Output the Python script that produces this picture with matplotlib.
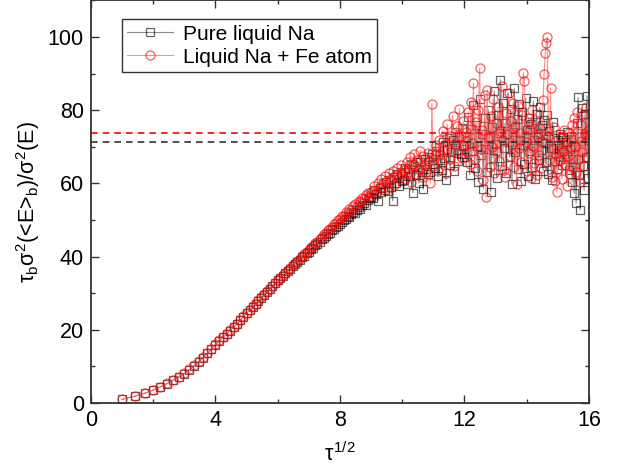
import numpy as np
import matplotlib
matplotlib.use("Agg")
import matplotlib.pyplot as plt
from matplotlib.ticker import MultipleLocator

plt.rcParams['font.family'] = ['Liberation Sans', 'DejaVu Sans']
plt.rcParams['mathtext.fontset'] = 'custom'
plt.rcParams['mathtext.rm'] = 'Liberation Sans'
plt.rcParams['mathtext.it'] = 'Liberation Sans'

# block sizes tau = 1..256, plotted against sqrt(tau)
tau = np.arange(1, 257)

pure_na = [
    1.0, 1.9, 2.7, 3.5, 4.4, 5.3, 6.2, 7.1, 8.0, 9.1,
    10.2, 11.3, 12.4, 13.6, 14.8, 16.0, 17.0, 18.0, 18.9, 19.8,
    20.7, 21.6, 22.6, 23.6, 24.5, 25.4, 26.3, 27.1, 28.0, 28.8,
    29.6, 30.4, 31.2, 32.0, 32.8, 33.5, 34.2, 34.8, 35.5, 36.1,
    36.7, 37.4, 38.0, 38.6, 39.2, 39.8, 40.3, 40.9, 41.4, 42.0,
    42.5, 43.1, 43.6, 44.1, 44.7, 45.2, 45.6, 46.3, 46.6, 47.2,
    47.5, 48.2, 48.5, 49.0, 49.4, 50.1, 50.3, 51.0, 50.9, 51.6,
    52.3, 51.9, 52.8, 53.5, 53.0, 54.2, 54.6, 54.1, 55.5, 55.9, 56.3,
    56.0, 58.1, 57.0, 55.2, 58.9, 57.6, 59.8, 58.1, 60.4, 57.9,
    61.0, 59.1, 55.3, 61.9, 60.2, 62.5, 59.4, 63.0, 60.8,
    61.0, 64.1, 59.8, 63.9, 62.0, 65.2, 57.5, 64.8, 62.3, 66.0,
    60.1, 65.9, 63.0, 58.4, 66.8, 64.0, 62.5, 67.3, 63.1, 68.0, 65.2,
    64.2, 68.9, 62.0, 70.1, 66.5, 63.8, 71.2, 67.0, 60.9, 69.5,
    72.3, 65.0, 68.7, 71.8, 63.5, 74.0, 69.1, 66.2, 72.8, 68.0,
    75.1, 70.4, 67.3,
    71.5, 66.0, 78.2, 62.4, 74.8, 69.0, 81.5, 64.3, 76.0, 70.2, 60.5, 83.0, 67.8, 73.5, 58.6, 77.9,
    69.4, 63.2, 80.1, 72.6, 57.8, 75.4, 66.9, 85.2, 70.7, 61.5, 78.8, 73.9, 88.4, 64.7, 82.0, 69.8,
    76.5, 62.8, 84.6, 71.3, 67.2, 80.3, 59.9, 74.1, 86.0, 68.5, 77.6, 63.9, 81.7, 72.0, 60.7, 79.4,
    70.6, 65.4, 83.3, 74.7, 62.1, 78.0, 68.9, 76.2, 64.6, 82.5, 71.8, 61.3, 79.0, 73.4, 66.3, 80.8,
    69.1, 75.9, 63.4, 77.3, 71.0, 65.8, 78.6, 62.7, 74.3, 69.7, 61.0, 76.8, 72.4, 66.1, 70.5, 64.0,
    71.9, 67.4, 73.6, 69.2, 65.1, 72.8, 68.0, 70.9, 66.6, 74.0, 71.2, 63.7, 69.5, 72.1, 60.4, 66.8,
    57.3, 70.0, 54.6, 76.4, 83.5, 62.2, 52.8, 71.5, 80.7, 64.8, 58.1, 78.9, 67.3, 84.0, 61.6, 73.2,
]

na_fe = [
    1.0, 1.9, 2.7, 3.6, 4.5, 5.4, 6.3, 7.2, 8.1, 9.2,
    10.3, 11.4, 12.5, 13.7, 14.9, 16.1, 17.1, 18.1, 19.0, 19.9,
    20.8, 21.7, 22.7, 23.7, 24.6, 25.5, 26.4, 27.2, 28.1, 28.9,
    29.7, 30.5, 31.3, 32.1, 32.9, 33.6, 34.3, 35.0, 35.6, 36.3,
    36.9, 37.6, 38.2, 38.8, 39.4, 40.1, 40.6, 41.3, 41.8, 42.6,
    43.0, 43.8, 44.1, 44.9, 45.3, 46.1, 46.4, 47.2, 47.6, 48.1,
    48.8, 49.1, 49.9, 50.2, 51.0, 51.2, 52.1, 52.0, 53.1, 52.8,
    53.9, 54.3, 53.8, 55.2, 55.0, 56.1, 55.8, 56.9, 57.4, 56.6, 57.8,
    58.0, 59.4, 57.3, 60.1, 58.8, 61.2, 59.0, 62.0, 60.3, 58.7,
    62.8, 61.1, 63.5, 59.6, 62.2, 64.1, 61.4, 65.0, 62.6,
    63.8, 61.2, 66.0, 63.0, 67.2, 60.5, 65.4, 68.1, 62.7, 66.3,
    64.0, 69.0, 61.8, 67.5, 65.0, 63.2, 68.3, 66.1, 60.2, 81.7, 64.9,
    67.8, 70.5, 63.4, 72.0, 68.1, 65.6, 74.3, 69.0, 62.8, 76.2,
    71.4, 66.7, 73.0, 78.5, 64.9, 70.8, 75.6, 68.2, 80.4, 72.9,
    67.0, 77.1, 70.3,
    74.0, 68.5, 79.6, 65.2, 82.3, 71.0, 87.4, 66.8, 76.9, 63.5, 80.2, 91.5, 69.3, 74.7, 61.0, 84.1,
    56.3, 85.5, 72.4, 64.6, 78.3, 70.1, 83.0, 62.9, 76.5, 68.8, 80.9, 66.2, 74.4, 86.7, 71.9, 63.7,
    61.9, 79.2, 73.5, 84.8, 67.4, 77.0, 70.6, 82.1, 64.5, 75.8, 59.9, 81.3, 69.7, 73.9, 66.0, 78.6,
    90.2, 88.0, 71.2, 63.3, 76.7, 68.4, 74.9, 61.5, 80.0, 70.3, 65.7, 77.4, 62.4, 72.8, 67.9, 75.1,
    64.2, 71.6, 82.7, 90.0, 95.6, 98.5, 100.0, 73.0, 66.5, 86.1, 61.8, 69.4, 75.3, 60.6, 68.0, 57.8,
    63.9, 70.8, 66.3, 72.5, 61.2, 68.7, 74.6, 65.0, 71.3, 59.4, 67.5, 73.8, 62.6, 69.9, 76.0, 64.4,
    77.9, 70.2, 63.1, 79.5, 66.8, 72.7, 60.3, 75.9, 68.5, 78.7, 64.9, 73.6, 81.0, 67.2, 71.8, 74.5,
]

# plateau values (dashed lines)
plateau_pure = 71.3
plateau_fe = 73.7

x = np.sqrt(tau)

fig = plt.figure(figsize=(6.18, 4.72), dpi=100)
ax = fig.add_axes([0.147, 0.146, 0.806, 0.853])

ax.plot(x, pure_na, color='#8c8c8c', lw=0.8, marker='s', ms=6, mfc='none',
        mec=(0, 0, 0, 0.6), mew=0.9, label='Pure liquid Na')
ax.plot(x, na_fe, color=(1, 0.4, 0.4, 0.75), lw=0.8, marker='o', ms=6.5, mfc='none',
        mec=(1, 0, 0, 0.65), mew=0.9, label='Liquid Na + Fe atom')

ax.axhline(plateau_pure, color='#333333', ls=(0, (4, 3)), lw=1.2)
ax.axhline(plateau_fe, color='red', ls=(0, (4, 3)), lw=1.2)

ax.set_xlim(0, 16)
ax.set_ylim(0, 110)
ax.xaxis.set_major_locator(MultipleLocator(4))
ax.xaxis.set_minor_locator(MultipleLocator(2))
ax.yaxis.set_major_locator(MultipleLocator(20))
ax.yaxis.set_minor_locator(MultipleLocator(10))
ax.tick_params(which='both', direction='in', top=True, right=True, labelsize=15.5,
               color='#333333', width=1.0)
ax.tick_params(which='major', length=6, pad=5)
ax.tick_params(which='minor', length=3)
for s in ax.spines.values():
    s.set_linewidth(1.3)
    s.set_color('#333333')

ax.set_xlabel(r'$\tau^{1/2}$', fontsize=15.5, labelpad=8)
ax.set_ylabel(r'$\tau_b\sigma^2$(<E>$_b$)/$\sigma^2$(E)', fontsize=15.5, labelpad=4)

leg = ax.legend(loc='upper left', bbox_to_anchor=(0.062, 0.953), borderaxespad=0,
                fontsize=15, fancybox=False, framealpha=1, edgecolor='#333333',
                handlelength=2.2, handletextpad=0.5, borderpad=0.25, labelspacing=0.2)
leg.get_frame().set_linewidth(1.0)

fig.savefig('out.png', dpi=100)
